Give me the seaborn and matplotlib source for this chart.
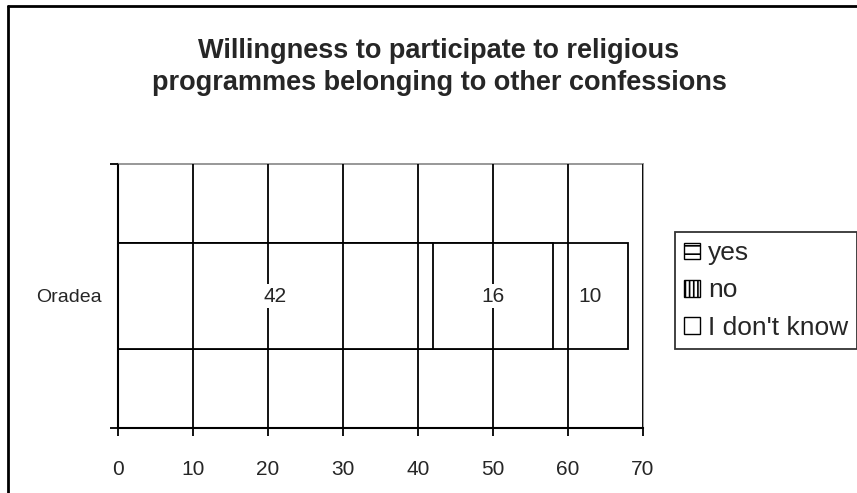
import matplotlib
matplotlib.use("Agg")
import matplotlib.pyplot as plt
from matplotlib.patches import Patch
from matplotlib.lines import Line2D
import seaborn as sns
import pandas as pd

# Datos
ciudades = ['Oradea']
respuestas = ['yes', 'no', "I don't know"]
valores = [42, 16, 10]
tramas = ['--', '||||', '']
titulo = 'Willingness to participate to religious\nprogrammes belonging to other confessions'

sns.set_style('white')
plt.rcParams['font.family'] = ['Liberation Sans', 'DejaVu Sans']
plt.rcParams['hatch.linewidth'] = 1.2

# acumulados para apilar las barras (se dibujan de mayor a menor)
acum = []
total = 0
for v in valores:
    total += v
    acum.append(total)

fig = plt.figure(figsize=(8.57, 4.93), dpi=100)
ax = fig.add_axes([118 / 857, 65 / 493, 525 / 857, 264 / 493])

for i in range(len(valores) - 1, -1, -1):
    df = pd.DataFrame({'Ciudad': ciudades, 'Valor': [acum[i]]})
    sns.barplot(data=df, x='Valor', y='Ciudad', orient='h', color='white',
                edgecolor='black', linewidth=1.3, width=0.4, saturation=1, ax=ax)

# etiquetas de cada tramo
inicio = 0
for v in valores:
    ax.text(inicio + v / 2, 0, str(v), ha='center', va='center', fontsize=15,
            zorder=5, bbox=dict(facecolor='white', edgecolor='none', pad=1.5))
    inicio += v

ax.set_xlim(0, 70)
ax.set_ylim(0.5, -0.5)
ax.set_xticks(range(0, 71, 10))
ax.set_yticks([-0.5, 0.5])
ax.set_yticklabels([])
ax.set_yticks([0], minor=True)
ax.set_yticklabels(ciudades, minor=True)
ax.tick_params(axis='y', which='major', left=True, length=6, width=1.3, color='black')
ax.tick_params(axis='y', which='minor', length=0, pad=12, labelsize=14)
ax.tick_params(axis='x', bottom=True, length=6, width=1.3, color='black', pad=17, labelsize=15)
ax.set_xlabel('')
ax.set_ylabel('')

ax.set_axisbelow(False)
ax.xaxis.grid(True, color='black', linewidth=1.3)
ax.yaxis.grid(False)

for lado in ['left', 'bottom']:
    ax.spines[lado].set_color('black')
    ax.spines[lado].set_linewidth(1.5)
for lado in ['top', 'right']:
    ax.spines[lado].set_color('#909090')
    ax.spines[lado].set_linewidth(1.3)

fig.text(439 / 857, 1 - 67 / 493, titulo, ha='center', va='center',
         fontsize=19.5, fontweight='bold', linespacing=1.25)

manejadores = [Patch(facecolor='white', edgecolor='black', hatch=t, label=r)
               for r, t in zip(respuestas, tramas)]
leg = fig.legend(handles=manejadores, loc='upper left',
                 bbox_to_anchor=(675 / 857, 1 - 232 / 493), fontsize=19,
                 frameon=True, fancybox=False, handlelength=0.6, handleheight=0.6,
                 handletextpad=0.3, labelspacing=0.5, borderpad=0.35, borderaxespad=0)
leg.get_frame().set_edgecolor('black')
leg.get_frame().set_linewidth(1.3)

# marco exterior del grafico (solo se ven el borde izquierdo y el superior)
fig.add_artist(Line2D([8 / 857, 8 / 857], [0, 1 - 6 / 493], transform=fig.transFigure,
                      color='black', linewidth=2))
fig.add_artist(Line2D([8 / 857, 1], [1 - 6 / 493, 1 - 6 / 493], transform=fig.transFigure,
                      color='black', linewidth=2))

fig.savefig('out.png', dpi=100, facecolor='white')
